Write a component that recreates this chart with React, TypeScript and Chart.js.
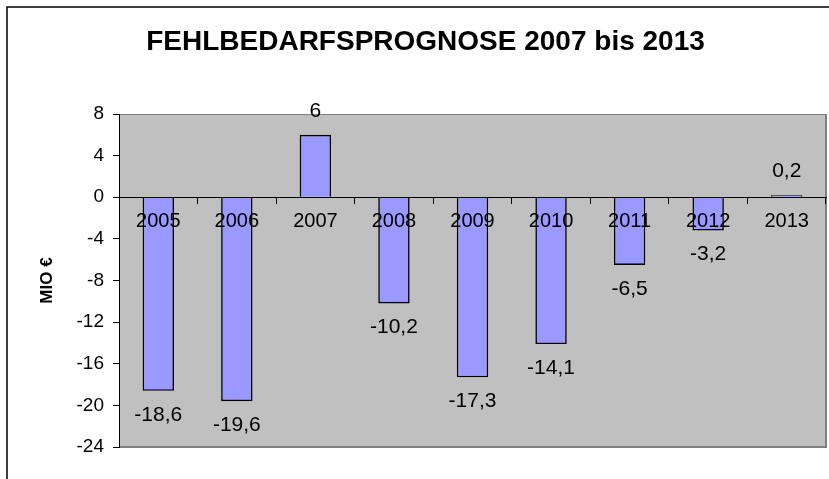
import React, { useEffect, useRef } from "react";
import { Chart, registerables } from "chart.js";

Chart.register(...registerables);

const categories = ["2005", "2006", "2007", "2008", "2009", "2010", "2011", "2012", "2013"];
const values = [-18.6, -19.6, 6, -10.2, -17.3, -14.1, -6.5, -3.2, 0.2];
const yTicks = [8, 4, 0, -4, -8, -12, -16, -20, -24];
const chartTitle = "FEHLBEDARFSPROGNOSE 2007 bis 2013";
const yTitle = "MIO €";

const FONT = "'Liberation Sans', Arial, Helvetica, sans-serif";

const backgroundPlugin = {
  id: "bgFrame",
  beforeDraw(chart: any) {
    const { ctx, chartArea: a, width, height } = chart;
    ctx.save();
    ctx.fillStyle = "#ffffff";
    ctx.fillRect(0, 0, width, height);
    ctx.strokeStyle = "#000000";
    ctx.lineWidth = 1.5;
    ctx.strokeRect(7, 7, width + 50, height + 50);
    ctx.fillStyle = "#C0C0C0";
    ctx.fillRect(a.left, a.top, a.right - a.left, a.bottom - a.top);
    ctx.strokeStyle = "#808080";
    ctx.lineWidth = 1;
    ctx.beginPath();
    ctx.moveTo(a.left, a.top + 0.5);
    ctx.lineTo(a.right, a.top + 0.5);
    ctx.stroke();
    ctx.lineWidth = 2;
    ctx.beginPath();
    ctx.moveTo(a.right, a.top);
    ctx.lineTo(a.right, a.bottom);
    ctx.lineTo(a.left, a.bottom);
    ctx.stroke();
    ctx.restore();
  },
};

const labelPlugin = {
  id: "valueLabels",
  afterDatasetsDraw(chart: any) {
    const { ctx } = chart;
    const meta = chart.getDatasetMeta(0);
    ctx.save();
    ctx.font = `21px ${FONT}`;
    ctx.fillStyle = "#000000";
    ctx.textAlign = "center";
    ctx.textBaseline = "middle";
    meta.data.forEach((el: any, i: number) => {
      const v = values[i];
      const txt = String(v).replace(".", ",");
      const y = v >= 0 ? el.y - 24 : el.y + 24;
      ctx.fillText(txt, el.x, y);
    });
    ctx.restore();
  },
};

export default function App() {
  const ref = useRef<HTMLCanvasElement | null>(null);

  useEffect(() => {
    if (!ref.current) return;
    const chart = new Chart(ref.current, {
      type: "bar",
      data: {
        labels: categories,
        datasets: [
          {
            data: values,
            backgroundColor: "#9999FF",
            borderColor: "#000000",
            borderWidth: 1.6,
            barPercentage: 0.4,
            categoryPercentage: 1,
          },
        ],
      },
      options: {
        responsive: false,
        animation: false,
        layout: { padding: { left: 25, right: 3, top: 0, bottom: 32 } },
        plugins: {
          legend: { display: false },
          tooltip: { enabled: false },
          title: {
            display: true,
            text: chartTitle,
            color: "#000000",
            font: { family: FONT, size: 28, weight: "bold" },
            padding: { top: 25, bottom: 55.4 },
          },
        },
        scales: {
          x: {
            type: "category",
            position: { y: 0 } as any,
            offset: true,
            grid: {
              display: true,
              drawOnChartArea: false,
              drawTicks: true,
              tickLength: 6,
              color: "#000000",
              offset: true,
            },
            border: { display: true, color: "#000000", width: 1 },
            ticks: {
              color: "#000000",
              font: { family: FONT, size: 20 },
              padding: 6,
              maxRotation: 0,
              autoSkip: false,
              z: 1,
            },
            afterFit: (s: any) => {
              s.height = 0;
            },
          },
          y: {
            position: "left",
            min: -24,
            max: 8,
            grid: {
              drawOnChartArea: false,
              drawTicks: true,
              tickLength: 6,
              color: "#000000",
            },
            border: { display: true, color: "#000000", width: 1 },
            ticks: {
              color: "#000000",
              font: { family: FONT, size: 19 },
              padding: 9,
              stepSize: 4,
            },
            afterBuildTicks: (s: any) => {
              s.ticks = yTicks.map((v) => ({ value: v }));
            },
            title: {
              display: true,
              text: yTitle,
              color: "#000000",
              font: { family: FONT, size: 17, weight: "bold" },
              padding: { top: 12, bottom: 0 },
            },
            afterFit: (s: any) => {
              s.width = 94;
            },
          },
        },
      },
      plugins: [backgroundPlugin, labelPlugin],
    });
    return () => chart.destroy();
  }, []);

  return (
    <div style={{ position: "fixed", left: 0, top: 0, width: 829, height: 479, overflow: "hidden", background: "#fff" }}>
      <canvas ref={ref} width={829} height={479} style={{ display: "block" }} />
    </div>
  );
}
